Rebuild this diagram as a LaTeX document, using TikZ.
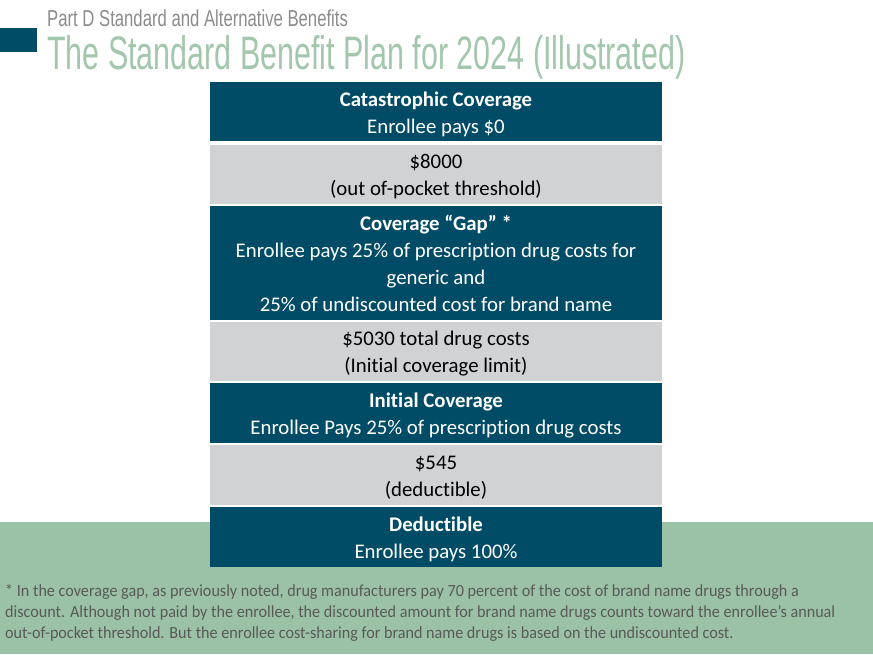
\documentclass[tikz,border=0pt]{standalone}
\usepackage{fontspec}
\setmainfont[Ligatures=NoCommon]{Carlito}
\newfontfamily\titlefont[FakeStretch=0.648]{Liberation Sans}
\newfontfamily\subfont[FakeStretch=0.726]{Liberation Sans}
\newfontfamily\notefont[FakeStretch=0.95,Ligatures=NoCommon]{Carlito}
\definecolor{darkteal}{HTML}{004B66}
\definecolor{cellgray}{HTML}{D1D2D4}
\definecolor{sage}{HTML}{9BC2A6}
\definecolor{titlegreen}{HTML}{A3C7AC}
\definecolor{subgray}{HTML}{8C8C8C}
\definecolor{notegray}{HTML}{595959}
\tikzset{
  cell/.style={minimum width=452pt, inner sep=0pt, outer sep=0pt},
  darkcell/.style={cell, fill=darkteal},
  graycell/.style={cell, fill=cellgray},
  celltext/.style={inner sep=0pt, align=center, font=\fontsize{20.8}{27}\selectfont},
  darktext/.style={celltext, text=white},
  graytext/.style={celltext, text=black},
}
\begin{document}
\begin{tikzpicture}[x=1pt,y=1pt]
\useasboundingbox (0,0) rectangle (873,-654);
\fill[white] (0,0) rectangle (873,-654);
\fill[sage] (0,-522) rectangle (873,-654);
\fill[darkteal] (0,-28) rectangle (37,-52);
\node[anchor=base west, inner sep=0pt, text=subgray, font=\subfont\fontsize{23}{23}\selectfont] (sub) at (47,-26) {Part D Standard and Alternative Benefits};
\node[anchor=base west, inner sep=0pt, text=titlegreen, font=\titlefont\fontsize{47}{47}\selectfont] (title) at (47,-69) {The Standard Benefit Plan for 2024 (Illustrated)};
% cells
\node[darkcell, minimum height=59pt] (cat) at (436,-111.5) {};
\node[graycell, minimum height=59pt] (oop) at (436,-174.5) {};
\node[darkcell, minimum height=114pt] (gap) at (436,-263) {};
\node[graycell, minimum height=59pt] (icl) at (436,-351.5) {};
\node[darkcell, minimum height=60pt] (init) at (436,-413) {};
\node[graycell, minimum height=60pt] (ded) at (436,-475) {};
\node[darkcell, minimum height=60pt] (dedc) at (436,-537) {};
% texts
\node[darktext, yshift=-2.5pt] (catT) at (cat.center) {\textbf{Catastrophic Coverage}\\Enrollee pays \$0};
\node[graytext, yshift=-2.5pt] (oopT) at (oop.center) {\$8000\\(out of-pocket threshold)};
\node[darktext, yshift=-0.5pt] (gapT) at (gap.center) {\textbf{Coverage “Gap” *}\\Enrollee pays 25\% of prescription drug costs for\\generic and\\25\% of undiscounted cost for brand name};
\node[graytext, yshift=-2.5pt] (iclT) at (icl.center) {\$5030 total drug costs\\(Initial coverage limit)};
\node[darktext, yshift=-2.5pt] (initT) at (init.center) {\textbf{Initial Coverage}\\Enrollee Pays 25\% of prescription drug costs};
\node[graytext, yshift=-2.5pt] (dedT) at (ded.center) {\$545\\(deductible)};
\node[darktext, yshift=-2.5pt] (dedcT) at (dedc.center) {\textbf{Deductible}\\Enrollee pays 100\%};
\node[anchor=north west, inner sep=0pt, align=left, text=notegray, font=\notefont\fontsize{17}{21}\selectfont] (note) at (5,-584) {* In the coverage gap, as previously noted, drug manufacturers pay 70 percent of the cost of brand name drugs through a\\discount. Although not paid by the enrollee, the discounted amount for brand name drugs counts toward the enrollee’s annual\\out-of-pocket threshold. But the enrollee cost-sharing for brand name drugs is based on the undiscounted cost.};
\end{tikzpicture}
\end{document}
